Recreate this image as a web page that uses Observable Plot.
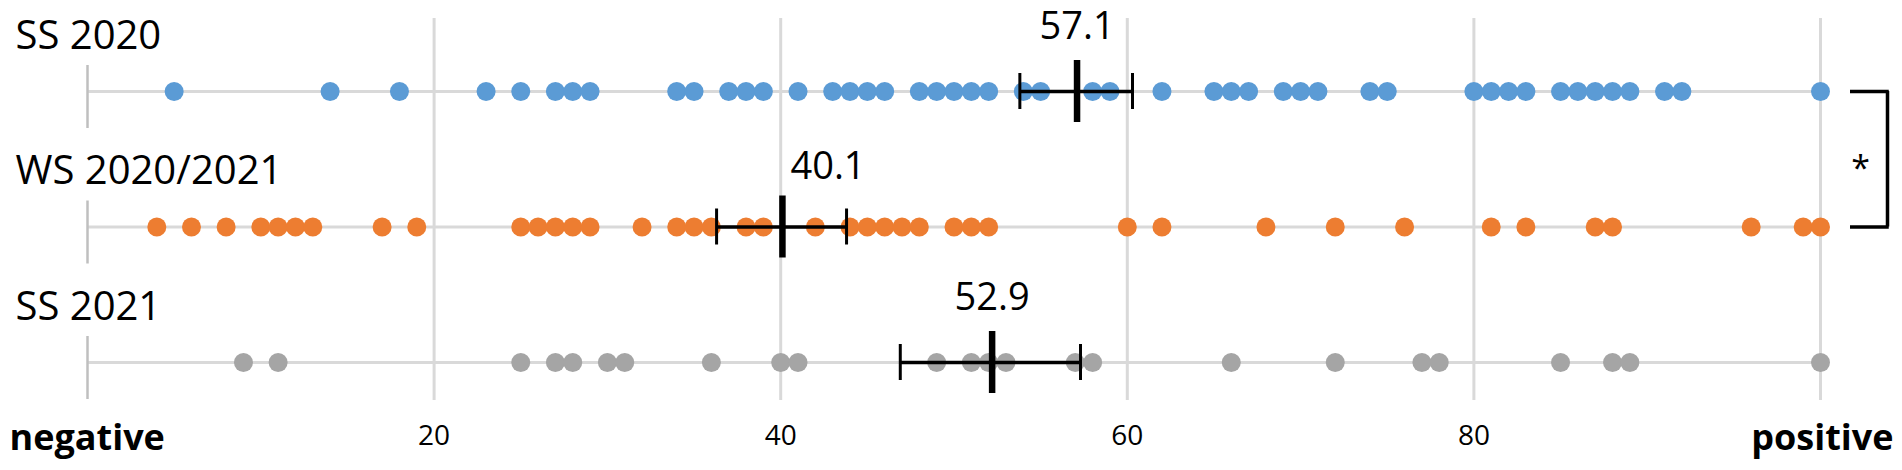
<!DOCTYPE html>
<html>
<head>
<meta charset="utf-8">
<script src="https://cdn.jsdelivr.net/npm/d3@7"></script>
<script src="https://cdn.jsdelivr.net/npm/@observablehq/plot@0.6"></script>
<style>
  html, body { margin: 0; padding: 0; background: #fff; }
  svg { display: block; }
</style>
</head>
<body>
<div id="chart"></div>
<script>
// ---- data ----
const groups = ["SS 2020", "WS 2020/2021", "SS 2021"];
const colors = ["#5B9BD5", "#ED7D31", "#A5A5A5"];
const ss2020 = [5,14,18,23,25,27,28,29,34,35,37,38,39,41,43,44,45,46,48,49,50,51,52,54,55,58,59,62,65,66,67,69,70,71,74,75,80,81,82,83,85,86,87,88,89,91,92,100];
const ws2021 = [4,6,8,10,11,12,13,17,19,25,26,27,28,29,32,34,35,36,38,39,42,44,45,46,47,48,50,51,52,60,62,68,72,76,81,83,87,88,96,99,100];
const ss2021 = [9,11,25,27,28,30,31,36,40,41,49,51,52,53,57,58,66,72,77,78,85,88,89,100];
const meanValues = [57.1, 40.1, 52.2];
const meanLabels = ["57.1", "40.1", "52.9"];
const errLow = [53.8, 36.3, 46.9];
const errHigh = [60.3, 43.8, 57.3];
const xTicks = [20, 40, 60, 80];
const gridValues = [20, 40, 60, 80, 100];
const endLabels = ["negative", "positive"];
const significance = "*";
const xDomain = [0, 100];

// ---- derived tables ----
const series = [ss2020, ws2021, ss2021];
const points = groups.flatMap((g, i) => series[i].map(v => ({group: g, value: v})));
const summary = groups.map((g, i) => ({group: g, mean: meanValues[i], label: meanLabels[i], lo: errLow[i], hi: errHigh[i]}));
const pairGroups = groups.slice(0, 2);

const font = "'Open Sans', sans-serif";

const chart = Plot.plot({
  width: 1902,
  height: 470,
  marginLeft: 87,
  marginRight: 82,
  marginTop: 18,
  marginBottom: 70,
  x: {domain: xDomain, axis: null},
  y: {type: "band", domain: groups, range: [23.25, 429.75], padding: 0, round: false, axis: null},
  color: {domain: groups, range: colors},
  style: {fontFamily: font, background: "white", color: "black", overflow: "visible"},
  marks: [
    Plot.ruleX(gridValues, {x: d => d, stroke: "#D9D9D9", strokeWidth: 3}),
    Plot.ruleY(groups, {y: d => d, stroke: "#D9D9D9", strokeWidth: 3}),
    Plot.ruleX(groups, {x: () => xDomain[0], y1: d => d, y2: d => d, insetTop: 41.75, insetBottom: 30.75, stroke: "#BFBFBF", strokeWidth: 2.5}),
    Plot.dot(points, {x: "value", y: "group", fill: "group", r: 9.5}),
    Plot.ruleY(summary, {y: "group", x1: "lo", x2: "hi", stroke: "black", strokeWidth: 3.5}),
    Plot.tickX(summary, {x: "lo", y: "group", insetTop: 49.75, insetBottom: 49.75, stroke: "black", strokeWidth: 3}),
    Plot.tickX(summary, {x: "hi", y: "group", insetTop: 49.75, insetBottom: 49.75, stroke: "black", strokeWidth: 3}),
    Plot.tickX(summary, {x: "mean", y: "group", insetTop: 36.75, insetBottom: 36.75, stroke: "black", strokeWidth: 6.5}),
    Plot.text(summary.filter(d => d.group !== groups[1]), {x: "mean", y: "group", text: "label", lineAnchor: "bottom", dy: -53, fontSize: 38, fill: "black"}),
    Plot.text(summary.filter(d => d.group === groups[1]), {x: "mean", y: "group", text: "label", textAnchor: "start", dx: 8, lineAnchor: "bottom", dy: -48, fontSize: 38, fill: "black"}),
    Plot.text(groups, {y: d => d, text: d => d, frameAnchor: "left", textAnchor: "start", dx: -72, dy: -43, lineAnchor: "bottom", fontSize: 40, fill: "black"}),
    Plot.axisX({ticks: xTicks, tickSize: 0, tickPadding: 25, fontSize: 28, label: null, anchor: "bottom"}),
    Plot.text([endLabels[0]], {text: d => d, frameAnchor: "bottom-left", textAnchor: "start", dx: -78, dy: 49, lineAnchor: "bottom", fontSize: 36, fontWeight: "bold", fill: "black"}),
    Plot.text([endLabels[1]], {text: d => d, frameAnchor: "bottom-right", textAnchor: "end", dx: 73, dy: 49, lineAnchor: "bottom", fontSize: 36, fontWeight: "bold", fill: "black"}),
    Plot.ruleX([xDomain[1]], {x: d => d, y1: () => groups[0], y2: () => groups[1], insetTop: 67.75, insetBottom: 67.75, dx: 67, stroke: "black", strokeWidth: 3.5}),
    Plot.ruleY(pairGroups, {y: d => d, x1: () => xDomain[1], x2: () => xDomain[1], insetLeft: 30, insetRight: -68.75, stroke: "black", strokeWidth: 3.5}),
    Plot.text([significance], {text: d => d, x: () => xDomain[1], y: () => groups[0], dx: 40, dy: 88, lineAnchor: "bottom", fontSize: 34, fill: "black"})
  ]
});

document.getElementById("chart").appendChild(chart);
</script>
</body>
</html>
